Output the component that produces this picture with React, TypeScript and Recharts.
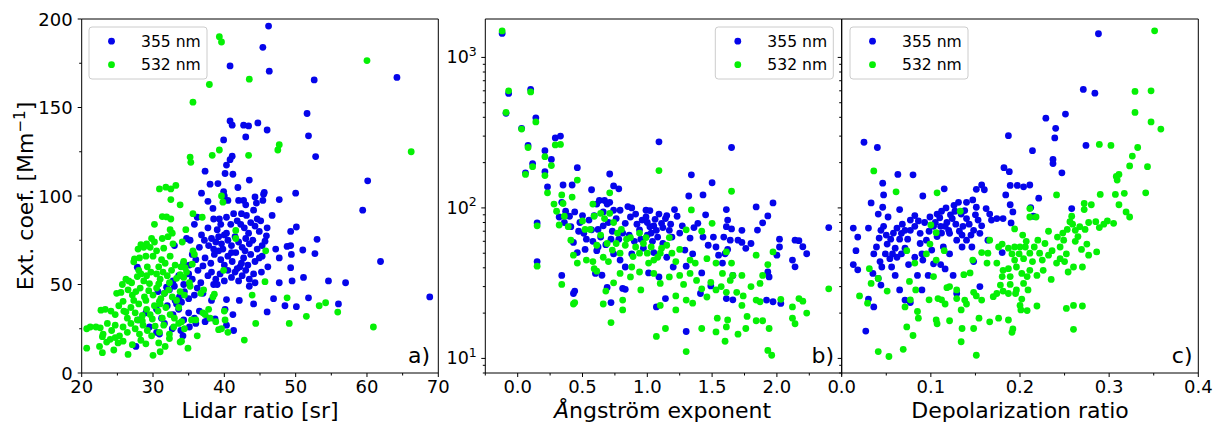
import React from "react";
import { ScatterChart, Scatter, XAxis, YAxis } from "recharts";

type Pt = [number, number];

const FONT = "DejaVu Sans, Verdana, sans-serif";
const BLUE = "#0505ea";
const GREEN = "#05f005";
const seriesNames = ["355 nm", "532 nm"];

// ---- panel a: lidar ratio vs extinction ----
const lidarBlue: Pt[] = [
  [46.2, 196], [45.4, 184], [40.8, 173.5], [46.3, 170.5], [64.2, 167], [52.6, 165.6], [51.6, 146.6], [51.8, 134],
  [52.8, 122.3], [40.8, 142.4], [41.1, 140], [42.7, 140], [43.4, 139.6], [44.7, 141.3], [46.0, 137.3], [43.0, 133.4],
  [39.9, 131.7], [41.1, 122.5], [40.8, 120.5], [40.3, 117.5], [37.3, 114], [41.2, 112.3], [40.1, 112.7], [43.5, 109],
  [38.0, 106.7], [39.1, 107], [60.1, 108.6], [50.0, 101.6], [36.8, 101.6], [39.9, 102.5], [41.9, 104.8], [45.6, 102],
  [59.4, 92], [61.9, 63], [68.8, 43], [57.0, 51], [54.6, 52], [56.0, 39], [53.0, 75.5], [52.7, 67.5], [51.0, 69.5],
  [50.1, 82.5], [49.3, 80], [48.8, 71.5], [49.3, 72], [49.4, 67], [49.3, 59.5], [49.5, 52], [47.7, 65], [47.7, 51],
  [47.2, 70], [47.7, 98], [46.0, 82], [45.9, 77.5], [46.1, 60], [46.0, 34.5], [46.9, 42], [48.5, 38], [50.1, 37.5],
  [51.8, 42.5], [51.1, 54],
  [37.7, 97], [38.4, 93], [40.0, 100], [40.5, 97.5], [42.0, 97.5], [42.7, 97.5], [43.0, 95], [44.3, 99.5], [44.5, 96],
  [45.4, 97.5], [45.5, 101], [41.3, 90], [42.4, 90], [43.1, 89], [44.1, 92], [40.3, 88], [39.3, 87], [44.6, 87], [46.7, 89],
  [36.2, 88], [38.5, 87], [41.8, 86], [42.3, 84], [43.7, 85], [44.3, 83], [45.1, 86], [37.7, 82], [39.5, 84], [40.9, 84],
  [42.8, 82], [44.9, 80], [35.8, 84], [39.0, 81],
  [34.7, 76], [35.2, 75], [36.5, 71], [37.2, 75], [37.8, 72], [38.2, 76], [38.8, 74], [39.2, 77], [39.6, 73], [40.0, 78],
  [40.5, 75], [41.0, 72], [41.5, 77], [42.0, 74], [42.5, 71], [43.0, 76], [43.5, 73], [44.0, 75], [44.6, 70], [45.3, 72],
  [38.5, 70], [39.8, 70], [42.9, 69], [36.8, 78], [40.3, 79], [43.4, 79], [45.7, 74.5], [33.0, 72],
  [34.3, 62], [35.1, 61], [36.0, 64], [37.3, 65], [38.1, 62], [38.6, 67], [39.5, 64], [40.0, 61], [40.5, 66], [41.1, 63],
  [41.6, 68], [42.2, 60], [42.7, 65], [43.3, 61], [43.7, 67], [44.3, 63], [44.9, 65], [45.3, 66], [39.2, 69], [41.0, 68],
  [35.5, 67], [42.4, 62], [37.0, 60.5], [27.8, 59.8],
  [32.8, 52], [33.6, 55], [34.3, 50], [35.0, 56], [35.5, 53], [36.7, 51], [37.7, 55], [38.2, 57], [38.8, 53], [39.4, 56],
  [40.0, 52], [40.5, 58], [41.0, 54], [41.5, 57], [42.0, 52], [42.5, 55], [43.0, 58], [43.5, 53], [44.1, 56], [45.2, 57],
  [38.5, 50], [39.0, 50], [41.8, 59], [43.5, 49], [44.3, 51], [36.3, 58],
  [31.6, 45], [32.3, 47], [33.0, 49], [33.7, 43], [34.4, 46], [35.0, 42], [35.8, 44], [36.2, 48], [37.0, 45], [34.0, 40],
  [33.1, 41], [38.2, 41], [40.3, 41.5], [42.1, 41], [44.1, 39], [31.9, 48.5], [30.7, 46],
  [28.0, 30], [29.0, 34], [30.5, 36], [31.2, 31], [32.0, 38], [32.8, 33], [33.6, 36], [34.3, 30], [35.0, 34], [35.8, 31],
  [36.5, 35], [37.7, 31], [38.7, 30.5], [40.1, 36], [41.2, 33], [33.3, 39],
  [27.6, 15], [29.5, 26], [30.5, 23], [31.6, 28], [32.7, 25], [33.9, 24], [35.1, 26], [36.0, 28], [40.3, 27], [41.3, 24],
  [37.3, 29], [34.2, 21], [30.9, 22],
];

const lidarGreen: Pt[] = [
  [39.3, 190], [39.6, 187], [60.0, 176.5], [43.5, 166], [37.9, 163], [35.6, 153], [47.7, 129], [47.5, 126], [66.2, 125],
  [39.3, 126], [38.3, 123], [43.4, 123], [35.2, 122], [35.3, 119],
  [30.9, 104], [31.8, 105], [32.5, 104], [33.2, 106], [32.5, 98], [33.8, 95], [39.6, 100], [39.8, 96.5], [35.6, 90],
  [36.9, 88], [30.2, 84], [31.3, 88.4], [31.9, 88.2], [32.5, 87], [32.4, 81], [32.7, 79], [32.1, 77], [34.6, 81],
  [41.6, 80.5], [41.6, 76], [45.8, 69], [34.1, 74], [35.6, 69], [35.8, 67],
  [39.9, 58], [45.7, 51.6], [43.9, 44], [48.8, 42.5], [53.3, 38], [54.2, 39.7], [55.9, 34.4], [51.5, 32], [49.1, 28],
  [44.4, 28], [42.8, 18.6], [60.9, 26],
  [36.7, 45], [37.1, 47], [38.4, 43], [38.6, 44.5], [37.3, 33], [37.0, 34], [38.0, 31], [38.8, 29], [40.0, 35], [40.1, 30],
  [39.2, 24.5], [39.6, 25], [40.5, 23], [37.8, 36], [35.4, 30], [35.2, 49], [36.0, 30], [36.2, 21], [34.0, 18],
  [27.9, 70], [28.3, 72.5], [28.7, 71], [29.1, 73], [29.8, 76], [30.2, 74], [29.6, 71], [31.3, 76], [32.8, 73], [31.5, 70.5],
  [30.5, 69],
  [27.4, 64.5], [27.3, 62.8], [28.1, 65], [29.0, 66], [30.0, 66], [31.2, 64], [31.7, 62], [32.4, 66], [33.1, 61], [33.9, 60],
  [34.3, 63], [35.5, 61.5], [34.5, 59.5], [30.8, 60], [29.2, 60],
  [26.2, 53], [26.6, 52], [27.0, 51], [27.8, 54.5], [28.3, 56], [28.7, 52], [29.1, 55], [29.7, 57], [30.5, 56], [31.0, 53],
  [31.4, 57], [32.0, 55], [32.6, 58], [33.3, 53.5], [33.8, 55.5], [34.3, 54], [35.1, 51], [28.0, 58], [25.7, 50], [29.5, 50.5],
  [30.8, 50.3], [32.3, 51], [34.7, 57],
  [24.9, 45], [25.5, 45.5], [26.5, 47], [27.1, 44], [27.6, 46], [28.2, 48], [28.8, 43], [29.4, 46.5], [30.0, 44], [30.5, 48],
  [31.1, 42], [31.6, 45], [32.2, 47], [32.7, 43], [33.3, 41], [33.8, 46], [34.4, 44], [27.3, 41], [29.0, 41], [30.9, 40.5],
  [25.8, 40.5],
  [23.3, 36], [24.1, 35], [24.7, 33], [25.2, 38], [25.9, 35], [26.4, 31], [26.9, 37], [27.5, 34], [28.0, 39], [28.5, 32.5],
  [29.1, 36], [29.6, 33], [30.2, 38], [30.7, 35], [31.3, 31], [31.8, 37], [32.4, 33], [33.0, 31], [33.6, 37], [22.7, 35.5],
  [26.2, 34.5], [27.8, 30], [29.9, 30.5], [31.0, 39],
  [20.7, 25], [21.2, 26], [22.0, 26], [22.6, 25.5], [23.0, 22], [23.6, 28], [24.2, 24], [24.7, 27], [25.3, 21], [25.8, 26],
  [26.4, 23], [26.9, 28], [27.5, 25], [28.1, 22], [28.6, 27], [29.2, 24], [29.8, 21], [30.3, 26.5], [30.9, 23], [31.5, 27],
  [32.3, 22], [32.9, 26], [33.6, 28], [34.4, 25], [34.0, 29], [22.9, 20.5], [24.7, 20], [28.5, 29.5],
  [20.7, 14], [22.5, 15], [22.9, 11.5], [23.5, 17.5], [24.5, 13], [25.1, 17], [25.8, 18], [26.5, 10.5], [27.1, 16],
  [28.3, 18.5], [29.0, 16.5], [30.0, 10], [30.8, 17], [31.0, 12], [31.7, 15], [33.8, 17.5], [34.9, 14], [24.0, 19.0], [32.3, 19.5],
];

// ---- panel b: Angstrom exponent vs extinction (log) ----
const angBlue: Pt[] = [
  [-0.12, 1443], [0.10, 612], [-0.07, 576], [-0.09, 425], [0.14, 397], [0.03, 338], [0.33, 300], [0.29, 292], [0.08, 260],
  [0.21, 240], [0.26, 210], [0.115, 197], [0.21, 174], [0.06, 171], [1.09, 275], [1.65, 252], [1.34, 166], [0.71, 168],
  [0.46, 185], [1.50, 147], [0.23, 138], [0.35, 142], [0.42, 142], [0.57, 132], [0.74, 140], [0.78, 134], [1.32, 120],
  [1.43, 122], [1.97, 108], [1.84, 101.5], [1.61, 97.5], [1.21, 97.5], [0.99, 96.5], [2.40, 74], [1.93, 88.5], [1.89, 79.6],
  [1.85, 71.3], [2.02, 62], [2.14, 61], [2.17, 60.6], [2.2, 55.2], [2.23, 49.6], [2.12, 45], [2.14, 40.6], [2.02, 55],
  [2.0, 48.5], [1.80, 58], [1.76, 53.9], [1.73, 71], [1.65, 72.5], [1.61, 75], [1.59, 64], [1.70, 61], [1.73, 59],
  [1.60, 49.6], [1.93, 37.5], [1.94, 34.8], [1.92, 24.4], [1.97, 23.8], [2.03, 23.2], [1.30, 15.1], [1.07, 22], [1.14, 25],
  [0.72, 23.5], [0.69, 29.6], [0.81, 29.2], [0.83, 28.8], [0.44, 28], [0.43, 27], [0.34, 35.6], [0.15, 44], [0.15, 79.5],
  [0.43, 59], [0.52, 53], [0.46, 50.5],
  [0.32, 87], [0.34, 109], [0.37, 95], [0.41, 75], [0.44, 94], [0.48, 80], [0.51, 67.8], [0.50, 89], [0.55, 83], [0.57, 71.5],
  [0.59, 89], [0.61, 106], [0.63, 112], [0.66, 94], [0.67, 112], [0.69, 106], [0.71, 109], [0.74, 96.5], [0.76, 85],
  [0.79, 96.5], [0.83, 79], [0.85, 102], [0.87, 87], [0.91, 91], [0.92, 78], [0.94, 71.5], [0.96, 83], [0.99, 87], [1.02, 75],
  [1.03, 68], [1.05, 76], [1.07, 71], [1.09, 91], [1.11, 79], [1.14, 85], [1.15, 89], [1.17, 71], [1.19, 64], [1.23, 88],
  [1.25, 68], [1.29, 52.5], [1.33, 63], [1.36, 74], [1.39, 79], [1.43, 64], [1.45, 90], [1.47, 56.5], [1.51, 64], [1.53, 55],
  [1.55, 48.5], [1.58, 43], [1.62, 53], [1.66, 35.6], [1.66, 24.5], [1.64, 61], [1.62, 83],
  [0.60, 36.7], [0.65, 35.7], [0.83, 40.5], [1.01, 37], [1.09, 34.8], [1.2, 40.5], [1.30, 41], [1.42, 37], [1.41, 27],
  [1.49, 30.3], [1.61, 25], [0.79, 45], [0.74, 49.5], [0.62, 55], [0.61, 52], [0.88, 49.5], [0.97, 54], [1.05, 50.5],
  [1.15, 47], [1.35, 49.5],
  [0.62, 72], [0.66, 76], [0.70, 80], [0.73, 70], [0.78, 62], [0.81, 68], [0.86, 66], [0.9, 60], [0.95, 62], [1.0, 66],
  [1.04, 60], [1.08, 64], [1.12, 58], [0.64, 64], [0.58, 60], [0.53, 62], [0.47, 70], [0.40, 88], [0.36, 80], [0.88, 100],
  [1.0, 80], [1.06, 84], [1.12, 74], [1.18, 78], [1.27, 76], [0.68, 57], [0.72, 62], [1.02, 96],
];

const angGreen: Pt[] = [
  [-0.12, 1500], [-0.07, 600], [0.10, 590], [-0.09, 431], [0.03, 334], [0.14, 373], [0.29, 262], [0.33, 264], [0.08, 252],
  [0.115, 188], [0.21, 219], [0.26, 191], [0.06, 167], [0.21, 164], [0.23, 126], [1.09, 177], [1.65, 129], [1.34, 97],
  [0.46, 153], [0.71, 126], [0.42, 118], [0.34, 122], [0.35, 107], [0.28, 106], [0.30, 95], [0.36, 88], [0.32, 77],
  [0.15, 76], [0.15, 41], [0.34, 31], [0.43, 23], [0.44, 23.5], [0.43, 48.5], [0.41, 61], [0.39, 75], [0.46, 43], [0.53, 45],
  [0.58, 44], [0.59, 39.5], [0.61, 38], [0.52, 72], [0.50, 82], [0.56, 72], [0.58, 106], [0.59, 88], [0.64, 92], [0.67, 85],
  [0.71, 92], [0.74, 80], [0.77, 68], [0.80, 72], [0.84, 62], [0.87, 63.5], [0.91, 55], [0.94, 68], [0.97, 58], [1.0, 50],
  [1.05, 45], [1.08, 47], [1.11, 54], [1.15, 56.5], [1.19, 50], [1.22, 44], [1.25, 53], [1.30, 71.5], [1.33, 45], [1.37, 43],
  [1.42, 70], [1.46, 46], [1.50, 79], [1.53, 43], [1.58, 36.7], [1.61, 51], [1.65, 43], [1.66, 35.6], [1.73, 35.6],
  [1.84, 48.5], [1.87, 31.5], [1.89, 35.6], [1.97, 51], [1.93, 42], [2.03, 24.7], [2.12, 22], [2.17, 25], [2.2, 24],
  [2.23, 20], [2.40, 29],
  [0.72, 17.3], [0.81, 21], [0.81, 24.4], [0.68, 28], [0.66, 23], [1.07, 14], [1.14, 15.8], [1.30, 11.1], [1.42, 15.8],
  [1.53, 15], [1.54, 18.5], [1.60, 13], [1.61, 16.2], [1.62, 18], [1.70, 14.5], [1.76, 15.8], [1.77, 19], [1.84, 17.8],
  [1.89, 17.8], [1.94, 15.8], [1.93, 11.3], [1.96, 10.5], [2.12, 18.5], [2.14, 17], [1.30, 24.4], [1.35, 23.3], [1.22, 21],
  [1.10, 22.5], [1.22, 26], [1.28, 31], [1.33, 36.7], [1.38, 33], [1.42, 29], [1.46, 25.6], [1.49, 32], [1.53, 28.5],
  [1.57, 30], [1.61, 27.5], [1.64, 33], [1.69, 27.5], [1.74, 26], [1.80, 30], [1.84, 24.4], [1.73, 22.5], [1.87, 23.8],
  [0.74, 31.8], [0.79, 36.7], [0.87, 34.8], [0.94, 37.5], [1.01, 43], [1.05, 36.7], [1.10, 31.5], [1.17, 34.8], [1.25, 35.6],
  [0.95, 28.5], [0.88, 40.5],
  [0.69, 58], [0.64, 66], [0.61, 56.5], [0.73, 52.5], [0.79, 50], [0.83, 56.5], [0.89, 47.5], [0.94, 50], [0.99, 63.5],
  [1.03, 55], [1.10, 50], [1.17, 63.5], [0.76, 58], [0.70, 44], [0.66, 47],
];

// ---- panel c: depolarization ratio vs extinction (log) ----
const depolBlue: Pt[] = [
  [0.288, 1436], [0.271, 613], [0.284, 579], [0.229, 395], [0.251, 420], [0.240, 338], [0.239, 292], [0.187, 302],
  [0.274, 260], [0.214, 240], [0.237, 210], [0.237, 197], [0.247, 171], [0.182, 185], [0.188, 174], [0.025, 273],
  [0.040, 252], [0.063, 167], [0.080, 166], [0.046, 146], [0.091, 120], [0.115, 134], [0.047, 122], [0.033, 108],
  [0.189, 141], [0.197, 141], [0.204, 138], [0.211, 142], [0.184, 122], [0.189, 105], [0.221, 116], [0.212, 100.5],
  [0.192, 94], [0.258, 99], [0.215, 88], [0.190, 79.5], [0.181, 85], [0.174, 85], [0.180, 50.5], [0.164, 61],
  [0.013, 42], [0.018, 38.8], [0.013, 73.5], [0.018, 64], [0.016, 52], [0.030, 73.5], [0.035, 36.7], [0.030, 24.8],
  [0.036, 22], [0.027, 15.2], [0.044, 30.7], [0.041, 34], [0.045, 40.5], [0.043, 44], [0.039, 55], [0.036, 49.5],
  [0.042, 63], [0.044, 71], [0.047, 75.5], [0.052, 87], [0.041, 91], [0.046, 101], [0.055, 62], [0.057, 49.5], [0.056, 40.5],
  [0.060, 35.6], [0.065, 28.5], [0.071, 24.4], [0.077, 23.5], [0.075, 42], [0.065, 97.5], [0.062, 73.5], [0.067, 67.8],
  [0.071, 54], [0.077, 83], [0.082, 89], [0.088, 67.8], [0.090, 49.5], [0.085, 35.6], [0.090, 28.5], [0.097, 35.6],
  [0.099, 87], [0.107, 91], [0.112, 95], [0.116, 75.5], [0.107, 64.5], [0.101, 52.5], [0.111, 42], [0.116, 39.3],
  [0.121, 49.5], [0.125, 35.6], [0.129, 27], [0.120, 71], [0.124, 85], [0.131, 109], [0.134, 91], [0.136, 75.5], [0.140, 61],
  [0.146, 55], [0.140, 109], [0.147, 113], [0.151, 101], [0.151, 133], [0.157, 142], [0.160, 132], [0.155, 67.8], [0.148, 44],
  [0.155, 30], [0.162, 99], [0.166, 91], [0.168, 83], [0.153, 83], [0.148, 71], [0.111, 75.5], [0.103, 75.5], [0.095, 61],
  [0.088, 58], [0.082, 75.5], [0.077, 71], [0.071, 71], [0.065, 62], [0.060, 54], [0.051, 57.5], [0.049, 49.5], [0.054, 46],
  [0.062, 47], [0.067, 49.5], [0.082, 47], [0.091, 45], [0.103, 42.5], [0.114, 55], [0.121, 67.8], [0.129, 61], [0.135, 55],
  [0.140, 85], [0.127, 95],
  [0.105, 80], [0.110, 86], [0.118, 80], [0.122, 90], [0.128, 78], [0.132, 70], [0.138, 96], [0.143, 78], [0.145, 66],
  [0.150, 90], [0.112, 68], [0.098, 70], [0.093, 80], [0.086, 82], [0.074, 62], [0.068, 78], [0.058, 68], [0.050, 66],
  [0.126, 104], [0.117, 100], [0.135, 66], [0.157, 76],
];

const depolGreen: Pt[] = [
  [0.351, 1502], [0.329, 594], [0.347, 600], [0.329, 431], [0.347, 373], [0.358, 334], [0.289, 264], [0.302, 260],
  [0.332, 252], [0.326, 221], [0.323, 190], [0.343, 188], [0.311, 167], [0.309, 153], [0.308, 162], [0.290, 123],
  [0.307, 123], [0.317, 125], [0.341, 126], [0.311, 105], [0.319, 94], [0.323, 87], [0.280, 105], [0.272, 107],
  [0.272, 97.5], [0.241, 122], [0.285, 81], [0.298, 82], [0.305, 79], [0.294, 78], [0.289, 74], [0.277, 80], [0.273, 72],
  [0.267, 75], [0.262, 71], [0.259, 78], [0.258, 88], [0.256, 81], [0.265, 64.5], [0.269, 53], [0.275, 57.5], [0.277, 48.5],
  [0.286, 51], [0.270, 40.5], [0.260, 40.5], [0.254, 37.5], [0.249, 61], [0.245, 55], [0.252, 49.5], [0.250, 44],
  [0.245, 46], [0.241, 43], [0.235, 33.5], [0.226, 38.5], [0.232, 48.5], [0.222, 50], [0.216, 55], [0.211, 50], [0.220, 61],
  [0.232, 70], [0.211, 87], [0.211, 99], [0.218, 87], [0.204, 46], [0.199, 49.5], [0.194, 45], [0.191, 49.5], [0.187, 54],
  [0.194, 55], [0.200, 55], [0.206, 55], [0.207, 60], [0.194, 72.5], [0.180, 57.5], [0.176, 55], [0.166, 61], [0.164, 50],
  [0.157, 50.5], [0.163, 43], [0.174, 43], [0.181, 38.5], [0.187, 39.5], [0.180, 35], [0.189, 35], [0.196, 40.5],
  [0.202, 36.7], [0.208, 35], [0.211, 38.5], [0.219, 35.6], [0.204, 31.5], [0.209, 28.5], [0.196, 28.5], [0.189, 31],
  [0.178, 30.7], [0.181, 28], [0.174, 27], [0.170, 25.7], [0.187, 27], [0.195, 27], [0.202, 24.8], [0.200, 22.5], [0.201, 21],
  [0.208, 20.8], [0.219, 22.3], [0.192, 15.7], [0.191, 14.9], [0.187, 18], [0.176, 18.5], [0.166, 17.5], [0.154, 18.5],
  [0.148, 15.8], [0.135, 15.8], [0.134, 12.9], [0.151, 10.5], [0.157, 24.4], [0.151, 26], [0.148, 27.5], [0.140, 23],
  [0.138, 24.4], [0.134, 21], [0.129, 25], [0.129, 28.5], [0.121, 30], [0.118, 29.5], [0.116, 23], [0.112, 24.5], [0.108, 25],
  [0.106, 18], [0.107, 17], [0.121, 17.8], [0.098, 24.5], [0.085, 20.5], [0.086, 18.5], [0.080, 14.2], [0.073, 16.2],
  [0.069, 11.5], [0.053, 10.3], [0.041, 11.1], [0.029, 23.3], [0.020, 26], [0.051, 28], [0.033, 31.5], [0.041, 34],
  [0.031, 39.5], [0.071, 22], [0.077, 24.5], [0.083, 28.5], [0.076, 32.5], [0.073, 52], [0.082, 43], [0.095, 49.5],
  [0.099, 57.5], [0.100, 77], [0.106, 68.5], [0.115, 52], [0.106, 45], [0.103, 35], [0.137, 36], [0.144, 37], [0.147, 45],
  [0.133, 95], [0.107, 126], [0.061, 128], [0.036, 176], [0.260, 15.6], [0.252, 21.5], [0.260, 22.5], [0.270, 22.3],
  [0.228, 58], [0.236, 52], [0.242, 64], [0.248, 68], [0.253, 72], [0.225, 45], [0.214, 44], [0.203, 66], [0.262, 60],
];

// ---- ticks ----
const lidarXTicks = [20, 25, 30, 35, 40, 45, 50, 55, 60, 65, 70];
const lidarXMajor = [20, 30, 40, 50, 60, 70];
const extLinTicks = [0, 25, 50, 75, 100, 125, 150, 175, 200];
const extLinMajor = [0, 50, 100, 150, 200];
const angXTicks = [-0.25, 0, 0.25, 0.5, 0.75, 1, 1.25, 1.5, 1.75, 2, 2.25, 2.5];
const angXMajor = [0, 0.5, 1, 1.5, 2];
const depolXTicks = [0, 0.05, 0.1, 0.15, 0.2, 0.25, 0.3, 0.35, 0.4];
const depolXMajor = [0, 0.1, 0.2, 0.3, 0.4];
const extLogTicks = [8, 9, 10, 20, 30, 40, 50, 60, 70, 80, 90, 100, 200, 300, 400, 500, 600, 700, 800, 900, 1000];
const extLogMajor = [10, 100, 1000];

const near = (arr: number[], v: number) => arr.some((m) => Math.abs(m - v) < 1e-9);
const toData = (pts: Pt[]) => pts.map(([x, y]) => ({ x, y }));

const bottomTick = (major: number[], fmt: (v: number) => string) => (p: any) => {
  const v = p.payload.value;
  const big = near(major, v);
  return (
    <g>
      <line x1={p.x} x2={p.x} y1={p.y} y2={p.y + (big ? 4 : 2.5)} stroke="#000" strokeWidth={1} />
      {big && (
        <text x={p.x} y={p.y + 20} textAnchor="middle" fontSize={18} fontFamily={FONT} fill="#000">
          {fmt(v)}
        </text>
      )}
    </g>
  );
};

const leftTick = (major: number[], label: "lin" | "log" | "none") => (p: any) => {
  const v = p.payload.value;
  const big = near(major, v);
  return (
    <g>
      <line x1={p.x} x2={p.x - (big ? 4 : 2.5)} y1={p.y} y2={p.y} stroke="#000" strokeWidth={1} />
      {big && label === "lin" && (
        <text x={p.x - 9} y={p.y + 6.5} textAnchor="end" fontSize={18} fontFamily={FONT} fill="#000">
          {v}
        </text>
      )}
      {big && label === "log" && (
        <text x={p.x - 8.5} y={p.y + 6} textAnchor="end" fontSize={17.5} fontFamily={FONT} fill="#000">
          10
          <tspan dy={-7.5} fontSize={12.5}>{Math.round(Math.log10(v))}</tspan>
        </text>
      )}
    </g>
  );
};

const dot = (color: string) => (p: any) => <circle cx={p.cx} cy={p.cy} r={3.4} fill={color} />;

interface PanelProps {
  left: number;
  width: number;
  yWidth: number;
  right: number;
  xDomain: [number, number];
  xTicks: number[];
  xTick: (p: any) => React.ReactElement;
  log: boolean;
  yTicks: number[];
  yTick: (p: any) => React.ReactElement;
  blue: Pt[];
  green: Pt[];
}

function Panel(props: PanelProps) {
  const { left, width, yWidth, right, xDomain, xTicks, xTick, log, yTicks, yTick, blue, green } = props;
  return (
    <div style={{ position: "absolute", left, top: 0 }}>
      <ScatterChart width={width} height={426} margin={{ top: 19, right, bottom: 23, left: 0 }} style={{ overflow: "visible" }}>
        <XAxis
          type="number"
          dataKey="x"
          domain={xDomain}
          ticks={xTicks}
          interval={0}
          allowDataOverflow
          height={30}
          tickSize={0}
          tickMargin={0}
          tickLine={false}
          axisLine={{ stroke: "#000", strokeWidth: 1 }}
          tick={xTick}
        />
        <YAxis
          type="number"
          dataKey="y"
          scale={log ? "log" : "linear"}
          domain={log ? [8, 1800] : [0, 200]}
          ticks={yTicks}
          interval={0}
          allowDataOverflow
          width={yWidth}
          tickSize={0}
          tickMargin={0}
          tickLine={false}
          axisLine={{ stroke: "#000", strokeWidth: 1 }}
          tick={yTick}
        />
        <Scatter name={seriesNames[0]} data={toData(blue)} fill={BLUE} shape={dot(BLUE)} isAnimationActive={false} />
        <Scatter name={seriesNames[1]} data={toData(green)} fill={GREEN} shape={dot(GREEN)} isAnimationActive={false} />
      </ScatterChart>
    </div>
  );
}

const frames = [
  { l: 81.7, r: 438.3 },
  { l: 485.3, r: 841.7 },
  { l: 841.7, r: 1198.3 },
];

function LegendBox({ x }: { x: number }) {
  const colors = [BLUE, GREEN];
  return (
    <g>
      <rect x={x} y={27} width={118} height={52} rx={3} fill="#fff" fillOpacity={0.8} stroke="#cccccc" strokeWidth={1} />
      {seriesNames.map((n, i) => (
        <g key={n}>
          <circle cx={x + 22.5} cy={41.2 + i * 23.5} r={3.4} fill={colors[i]} />
          <text x={x + 52} y={46.5 + i * 23.5} fontSize={15.6} fontFamily={FONT} fill="#000">
            {n}
          </text>
        </g>
      ))}
    </g>
  );
}

export default function App() {
  return (
    <div style={{ position: "absolute", left: 0, top: 0, width: 1215, height: 426, background: "#fff", fontFamily: FONT }}>
      <Panel
        left={0}
        width={460}
        yWidth={81.7}
        right={21.7}
        xDomain={[20, 70]}
        xTicks={lidarXTicks}
        xTick={bottomTick(lidarXMajor, (v) => String(v))}
        log={false}
        yTicks={extLinTicks}
        yTick={leftTick(extLinMajor, "lin")}
        blue={lidarBlue}
        green={lidarGreen}
      />
      <Panel
        left={440}
        width={410}
        yWidth={45.3}
        right={8.3}
        xDomain={[-0.25, 2.5]}
        xTicks={angXTicks}
        xTick={bottomTick(angXMajor, (v) => v.toFixed(1))}
        log={true}
        yTicks={extLogTicks}
        yTick={leftTick(extLogMajor, "log")}
        blue={angBlue}
        green={angGreen}
      />
      <Panel
        left={800}
        width={415}
        yWidth={41.7}
        right={16.7}
        xDomain={[0, 0.4]}
        xTicks={depolXTicks}
        xTick={bottomTick(depolXMajor, (v) => v.toFixed(1))}
        log={true}
        yTicks={extLogTicks}
        yTick={leftTick(extLogMajor, "none")}
        blue={depolBlue}
        green={depolGreen}
      />
      <svg width={1215} height={426} style={{ position: "absolute", left: 0, top: 0, pointerEvents: "none" }}>
        {frames.map((f, i) => (
          <g key={i}>
            <line x1={f.l} x2={f.r} y1={19} y2={19} stroke="#000" strokeWidth={1} />
            <line x1={f.r} x2={f.r} y1={19} y2={373} stroke="#000" strokeWidth={1} />
          </g>
        ))}
        <LegendBox x={89} />
        <LegendBox x={715.3} />
        <LegendBox x={850} />
        <text x={430} y={363} textAnchor="end" fontSize={22} fontFamily={FONT} fill="#000">a)</text>
        <text x={834} y={363} textAnchor="end" fontSize={22} fontFamily={FONT} fill="#000">b)</text>
        <text x={1192.5} y={363} textAnchor="end" fontSize={22} fontFamily={FONT} fill="#000">c)</text>
        <text x={260} y={418} textAnchor="middle" fontSize={22} fontFamily={FONT} fill="#000">Lidar ratio [sr]</text>
        <text x={662.5} y={418} textAnchor="middle" fontSize={22} fontFamily={FONT} fill="#000">
          <tspan fontStyle="italic">Å</tspan>ngström exponent
        </text>
        <text x={1020} y={418} textAnchor="middle" fontSize={22} fontFamily={FONT} fill="#000">Depolarization ratio</text>
        <text transform="translate(33,196) rotate(-90)" textAnchor="middle" fontSize={22} fontFamily={FONT} fill="#000">
          Ext. coef. [Mm<tspan dy={-8} fontSize={15}>−1</tspan><tspan dy={8}>]</tspan>
        </text>
      </svg>
    </div>
  );
}
